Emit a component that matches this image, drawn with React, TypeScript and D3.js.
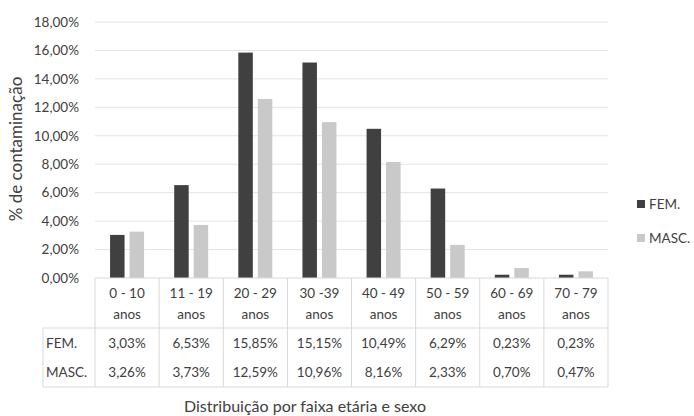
import React from 'react';
import * as d3 from 'd3';

const categories = ['0 - 10', '11 - 19', '20 - 29', '30 -39', '40 - 49', '50 - 59', '60 - 69', '70 - 79'];
const femValues = [3.03, 6.53, 15.85, 15.15, 10.49, 6.29, 0.23, 0.23];
const mascValues = [3.26, 3.73, 12.59, 10.96, 8.16, 2.33, 0.7, 0.47];
const yTicks = [0, 2, 4, 6, 8, 10, 12, 14, 16, 18];
const seriesNames = ['FEM.', 'MASC.'];
const seriesColors = ['#404040', '#c9c9c9'];

const width = 694;
const height = 416;
const plotLeft = 95;
const plotRight = 608;
const plotTop = 22;
const plotBottom = 278;
const tableLeft = 43;
const headerBottom = 328;
const tableBottom = 387;
const textColor = '#404040';
const gridColor = '#e3e3e3';
const font = 'Lato, "Open Sans", sans-serif';
const labelSize = 13.5;

const fmt = (v: number) => v.toFixed(2).replace('.', ',') + '%';

const App: React.FC = () => {
  const x = d3.scaleBand<string>().domain(categories).range([plotLeft, plotRight]);
  const y = d3.scaleLinear().domain([0, 18]).range([plotBottom, plotTop]);
  const barW = 14.5;
  const gap = 5;
  const series = [femValues, mascValues];
  const rowY = [343, 372];

  return (
    <svg width={width} height={height} style={{ position: 'absolute', left: 0, top: 0, background: '#fff' }}>
      <rect width={width} height={height} fill="#fff" />
      {/* grid + y ticks */}
      {yTicks.map(t => (
        <g key={t}>
          {t > 0 && <line x1={plotLeft} x2={plotRight} y1={y(t)} y2={y(t)} stroke={gridColor} strokeWidth={1} />}
          <text x={79} y={y(t)} dy="0.35em" textAnchor="end" fontSize={labelSize} fontFamily={font} fill={textColor}>
            {fmt(t)}
          </text>
        </g>
      ))}
      {/* bars */}
      {categories.map((c, i) => {
        const cx = (x(c) ?? 0) + x.bandwidth() / 2;
        return series.map((vals, s) => {
          const bx = s === 0 ? cx - gap / 2 - barW : cx + gap / 2;
          return (
            <rect key={c + s} x={bx} width={barW} y={y(vals[i])} height={plotBottom - y(vals[i])} fill={seriesColors[s]} />
          );
        });
      })}
      {/* data table */}
      <g stroke="#d9d9d9" strokeWidth={1} fill="none">
        <line x1={plotLeft} x2={plotRight} y1={plotBottom} y2={plotBottom} />
        <line x1={tableLeft} x2={plotRight} y1={headerBottom} y2={headerBottom} />
        <line x1={tableLeft} x2={plotRight} y1={tableBottom} y2={tableBottom} />
        <line x1={tableLeft} x2={tableLeft} y1={headerBottom} y2={tableBottom} />
        {categories.map(c => (
          <line key={c} x1={x(c)} x2={x(c)} y1={plotBottom} y2={tableBottom} />
        ))}
        <line x1={plotRight} x2={plotRight} y1={plotBottom} y2={tableBottom} />
      </g>
      {categories.map(c => {
        const cx = (x(c) ?? 0) + x.bandwidth() / 2;
        return (
          <g key={c} fontSize={labelSize} fontFamily={font} fill={textColor} textAnchor="middle">
            <text x={cx} y={293} dy="0.35em">{c}</text>
            <text x={cx} y={314} dy="0.35em">anos</text>
          </g>
        );
      })}
      {series.map((vals, s) => (
        <g key={s} fontSize={labelSize} fontFamily={font} fill={textColor}>
          <text x={46} y={rowY[s]} dy="0.35em">{seriesNames[s]}</text>
          {categories.map((c, i) => (
            <text key={c} x={(x(c) ?? 0) + x.bandwidth() / 2} y={rowY[s]} dy="0.35em" textAnchor="middle">
              {fmt(vals[i])}
            </text>
          ))}
        </g>
      ))}
      {/* legend */}
      {seriesNames.map((n, s) => (
        <g key={n}>
          <rect x={637} y={200 + s * 34} width={8} height={8} fill={seriesColors[s]} />
          <text x={649} y={204 + s * 34} dy="0.35em" fontSize={labelSize} fontFamily={font} fill={textColor}>{n}</text>
        </g>
      ))}
      {/* axis titles */}
      <text
        transform={`translate(16,149) rotate(-90)`}
        textAnchor="middle"
        dy="0.35em"
        fontSize={17}
        fontFamily={font}
        fill={textColor}
      >
        % de contaminação
      </text>
      <text x={305} y={406} dy="0.35em" textAnchor="middle" fontSize={16} fontFamily={font} fill={textColor}>
        Distribuição por faixa etária e sexo
      </text>
    </svg>
  );
};

export default App;
